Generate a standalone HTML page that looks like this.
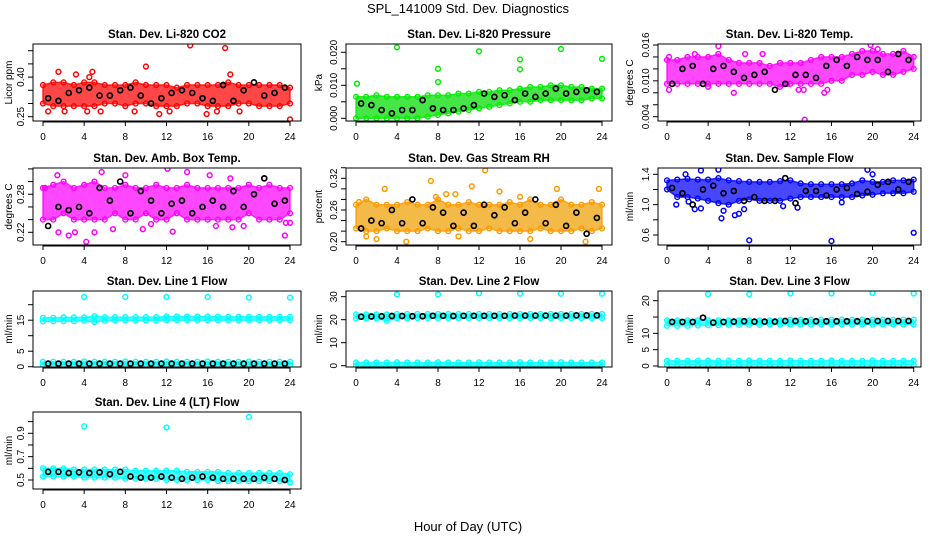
<!DOCTYPE html>
<html><head><meta charset="utf-8"><style>
html,body{margin:0;padding:0;background:#fff;}
svg{display:block;font-family:"Liberation Sans",Arial,sans-serif;}
</style></head><body>
<svg id="chart" width="936" height="540" viewBox="0 0 936 540" xmlns="http://www.w3.org/2000/svg">
<text x="468" y="13" text-anchor="middle" font-size="13">SPL_141009  Std. Dev. Diagnostics</text>
<text x="468" y="531" text-anchor="middle" font-size="13">Hour of Day (UTC)</text>
<g id="plots"></g>
</svg>
<script>
const HOURS=[0,1,2,3,4,5,6,7,8,9,10,11,12,13,14,15,16,17,18,19,20,21,22,23,24];
const BHOURS=[0.5,1.5,2.5,3.5,4.5,5.5,6.5,7.5,8.5,9.5,10.5,11.5,12.5,13.5,14.5,15.5,16.5,17.5,18.5,19.5,20.5,21.5,22.5,23.5];
const XTICKS=[0,4,8,12,16,20,24];

// Panel 1: CO2
const co2Hi=[0.37,0.38,0.38,0.37,0.38,0.38,0.37,0.37,0.37,0.38,0.37,0.37,0.37,0.36,0.37,0.37,0.37,0.37,0.38,0.37,0.37,0.37,0.37,0.37,0.36];
const co2Lo=[0.30,0.29,0.29,0.29,0.29,0.29,0.30,0.30,0.29,0.30,0.30,0.29,0.29,0.29,0.30,0.30,0.29,0.29,0.29,0.30,0.30,0.29,0.29,0.29,0.30];
const co2Black=[0.32,0.31,0.34,0.35,0.36,0.33,0.33,0.35,0.36,0.33,0.30,0.32,0.34,0.35,0.34,0.32,0.31,0.37,0.31,0.35,0.38,0.33,0.34,0.36];
const co2SX=[0.5,1.5,3.2,4.5,4.8,10,11.3,14.3,17.7,18.2,15.9,16.9,19.1,24,5.6,4.3,8.9,12.3,2.1];
const co2SY=[0.27,0.42,0.41,0.40,0.42,0.44,0.26,0.52,0.51,0.41,0.26,0.27,0.27,0.24,0.27,0.27,0.27,0.27,0.27];
// Panel 2: Pressure
const prHi=[0.0065,0.0065,0.007,0.0065,0.0065,0.0065,0.0065,0.007,0.007,0.007,0.0075,0.0075,0.008,0.008,0.0085,0.0085,0.009,0.0095,0.0095,0.01,0.01,0.0095,0.0095,0.009,0.009];
const prLo=[0,0,0,0,0,0,0,0.0005,0.001,0.0015,0.002,0.0025,0.003,0.0035,0.004,0.0045,0.005,0.005,0.0055,0.0055,0.0055,0.0055,0.0055,0.006,0.006];
const prBlack=[0.0045,0.004,0.0025,0.0015,0.0025,0.0025,0.0055,0.003,0.0025,0.0025,0.003,0.004,0.0075,0.0065,0.007,0.0055,0.0075,0.0065,0.0075,0.009,0.0075,0.008,0.0085,0.008];
const prSX=[0.1,4,8,8,12,16,16,20,24];
const prSY=[0.0105,0.0215,0.015,0.011,0.0203,0.0178,0.0148,0.021,0.018];
// Panel 3: Li-820 Temp
const ltHi=[0.0135,0.0135,0.014,0.014,0.014,0.0145,0.0135,0.013,0.013,0.013,0.0125,0.013,0.013,0.013,0.0135,0.014,0.014,0.014,0.0145,0.015,0.015,0.0145,0.0145,0.015,0.014];
const ltLo=[0.0095,0.0095,0.0095,0.0095,0.0095,0.0095,0.0095,0.0095,0.0095,0.0095,0.0095,0.009,0.0095,0.0095,0.0095,0.0095,0.01,0.01,0.011,0.011,0.0115,0.011,0.011,0.0115,0.012];
const ltBlack=[0.0095,0.012,0.0125,0.0095,0.012,0.0125,0.0115,0.0105,0.011,0.0115,0.0085,0.0095,0.011,0.011,0.0105,0.0125,0.0135,0.0125,0.014,0.0135,0.0135,0.0115,0.0145,0.0135];
const ltSX=[0.2,0.2,2.7,5,7.6,9.3,11.7,13.3,13.4,15.6,15.3,19.8,20.5,12.8,6.5,4];
const ltSY=[0.014,0.0085,0.0145,0.0158,0.0145,0.0145,0.0095,0.0085,0.0035,0.0085,0.008,0.016,0.0153,0.0085,0.008,0.009];
// Panel 4: Amb Box Temp
const abHi=[0.29,0.295,0.30,0.29,0.295,0.30,0.29,0.29,0.295,0.29,0.29,0.295,0.29,0.29,0.295,0.29,0.29,0.29,0.29,0.29,0.295,0.29,0.295,0.29,0.29];
const abLo=[0.24,0.24,0.25,0.24,0.24,0.24,0.24,0.25,0.24,0.24,0.25,0.24,0.24,0.25,0.24,0.24,0.24,0.24,0.24,0.24,0.25,0.24,0.24,0.24,0.25];
const abBlack=[0.23,0.26,0.255,0.26,0.25,0.29,0.27,0.30,0.25,0.285,0.27,0.25,0.265,0.27,0.25,0.26,0.27,0.26,0.285,0.26,0.28,0.305,0.265,0.27];
const abSX=[0.2,1.4,1.5,2.5,3.1,4.2,5,5.7,6.8,8,9.7,10.5,12.1,12.6,14,16.2,16.8,18.2,18.4,19.5,23.5,23.6,24,21.5];
const abSY=[0.29,0.31,0.22,0.215,0.22,0.205,0.22,0.315,0.225,0.31,0.225,0.233,0.32,0.221,0.315,0.31,0.23,0.305,0.228,0.23,0.215,0.235,0.235,0.305];
// Panel 5: Gas Stream RH
const rhHi=[0.27,0.28,0.27,0.27,0.27,0.275,0.27,0.27,0.28,0.27,0.27,0.275,0.27,0.27,0.27,0.275,0.27,0.28,0.27,0.27,0.28,0.27,0.27,0.275,0.27];
const rhLo=[0.225,0.22,0.22,0.225,0.22,0.22,0.22,0.225,0.22,0.22,0.225,0.22,0.22,0.225,0.22,0.22,0.22,0.22,0.225,0.22,0.22,0.22,0.225,0.22,0.225];
const rhBlack=[0.225,0.24,0.235,0.26,0.235,0.28,0.235,0.265,0.255,0.23,0.255,0.23,0.27,0.25,0.265,0.235,0.255,0.28,0.235,0.27,0.23,0.255,0.215,0.245];
const rhSX=[0.3,2.8,4.9,7.3,7.8,8.8,9.7,10,11.3,12.6,14,17,19.6,22.4,23.7,16,1,2];
const rhSY=[0.275,0.30,0.20,0.315,0.285,0.29,0.29,0.21,0.305,0.335,0.295,0.205,0.30,0.20,0.30,0.285,0.21,0.205];
// Panel 6: Sample Flow
const sfHi=[1.32,1.33,1.34,1.33,1.33,1.35,1.32,1.31,1.30,1.30,1.30,1.31,1.32,1.28,1.27,1.27,1.27,1.27,1.28,1.32,1.30,1.30,1.32,1.32,1.33];
const sfLo=[1.20,1.10,1.10,1.08,1.05,1.02,1.00,1.05,1.07,1.05,1.05,1.05,1.08,1.10,1.10,1.10,1.10,1.10,1.10,1.12,1.13,1.15,1.15,1.15,1.17];
const sfBlack=[1.22,1.15,1.0,1.20,1.25,1.15,1.18,1.05,1.10,1.05,1.05,1.35,1.02,1.18,1.18,1.12,1.20,1.22,1.14,1.17,1.26,1.30,1.20,1.30];
const sfSX=[0.9,1.8,2.7,3.3,3.3,5,5.3,5.5,6.6,7,7.5,8,16,24,12.7,19.5,20,11.3,2.1,17];
const sfSY=[1.0,1.4,0.94,0.95,1.45,1.46,0.82,0.92,0.86,0.88,0.94,0.53,0.52,0.63,0.96,1.46,1.40,0.98,1.04,1.03];
// Panel 7: Line 1 Flow
const l1Hi=[15.8,15.8,15.9,15.9,15.9,16.3,16,16,16,16,16,16,16.2,16.2,16.2,16.2,16.2,16.2,16.1,16.1,16.1,16.1,16.1,16.1,16.1];
const l1Lo=[14.6,14.6,14.7,14.7,14.8,14.4,14.8,14.9,14.9,14.9,14.9,14.9,15,15,15,15,15,15,15,15,15,15,15,15,15];
const l1LowHi=[1.6,1.6,1.6,1.6,1.7,1.6,1.6,1.6,1.7,1.6,1.6,1.6,1.7,1.6,1.6,1.6,1.7,1.6,1.6,1.6,1.7,1.6,1.6,1.6,1.6];
const l1LowLo=[0.5,0.5,0.5,0.5,0.4,0.5,0.5,0.5,0.4,0.5,0.5,0.5,0.4,0.5,0.5,0.5,0.4,0.5,0.5,0.5,0.4,0.5,0.5,0.5,0.5];
const l1Black=[1.0,1.0,1.0,1.0,1.0,1.0,1.0,1.0,1.0,1.0,1.0,1.0,1.0,1.0,1.0,1.0,1.0,1.0,1.0,1.0,1.0,1.0,1.0,1.0];
const l1SX=[4,8,12,16,20,24];
const l1SY=[22.5,22.5,22.5,22.5,22.3,22.3];
// Panel 8: Line 2 Flow
const l2Hi=[22.3,22.3,22.3,22.3,22.5,22.5,22.5,22.5,22.5,22.5,22.5,22.5,22.5,22.5,22.5,22.5,22.5,22.5,22.5,22.5,22.5,22.5,22.5,22.5,22.5];
const l2Lo=[20.5,20.5,20.5,19.5,20.5,20.5,20.7,20.7,20.7,20.7,20.7,20.7,20.7,20.7,20.7,20.7,20.7,20.7,20.7,20.7,20.7,20.7,20.7,20.7,20.7];
const l2LowHi=[1.4,1.4,1.4,1.4,1.5,1.4,1.4,1.4,1.5,1.4,1.4,1.4,1.5,1.4,1.4,1.4,1.5,1.4,1.4,1.4,1.5,1.4,1.4,1.4,1.4];
const l2LowLo=[0,0,0,0,0,0,-0.3,0,0,0,0,0,0,0,0,0,0,0,0,0,0,0,0,0,0];
const l2Black=[21.3,21.4,21.5,21.6,21.6,21.5,21.5,21.7,21.7,21.6,21.7,21.7,21.7,21.7,21.7,21.8,21.8,21.8,21.8,21.8,21.8,21.9,21.9,21.9];
const l2SX=[4,8,12,16,20,24];
const l2SY=[31,31,31.5,31.3,31.3,31.3];
// Panel 9: Line 3 Flow
const l3Hi=[14,14,14,14,14,14,14,14,14,14,14,14,14.2,14.2,14.2,14.2,14.2,14.2,14.2,14.2,14.2,14.2,14.2,14.2,14.2];
const l3Lo=[12.3,12.3,12.3,12.4,12.5,12.5,12.6,12.6,12.6,12.6,12.7,12.7,12.7,12.7,12.7,12.7,12.7,12.7,12.7,12.7,12.7,12.7,12.7,12.7,12.7];
const l3LowHi=[1.6,1.6,1.6,1.6,1.7,1.6,1.6,1.6,1.7,1.6,1.6,1.6,1.7,1.6,1.6,1.6,1.7,1.6,1.6,1.6,1.7,1.6,1.6,1.6,1.6];
const l3LowLo=[0.3,0.3,0.3,0.3,0.2,0.3,0.3,0.3,0.2,0.3,0.3,0.3,0.2,0.3,0.3,0.3,0.2,0.3,0.3,0.3,0.2,0.3,0.3,0.3,0.3];
const l3Black=[13.5,13.5,13.5,14.8,13.3,13.5,13.6,13.7,13.6,13.6,13.6,13.8,13.8,13.7,13.7,13.7,13.7,13.7,13.7,13.7,13.8,13.8,13.8,13.8];
const l3SX=[4,8,12,16,20,24];
const l3SY=[22,22,22.2,22.2,22.4,22.2];
// Panel 10: Line 4 (LT) Flow
const l4Hi=[0.60,0.60,0.60,0.59,0.59,0.59,0.59,0.59,0.59,0.58,0.58,0.58,0.58,0.58,0.57,0.57,0.57,0.57,0.56,0.56,0.56,0.56,0.56,0.56,0.55];
const l4Lo=[0.53,0.53,0.53,0.53,0.52,0.52,0.52,0.52,0.51,0.51,0.51,0.51,0.50,0.50,0.50,0.50,0.50,0.49,0.49,0.49,0.49,0.49,0.49,0.49,0.48];
const l4Black=[0.57,0.57,0.56,0.565,0.56,0.565,0.55,0.57,0.53,0.52,0.52,0.53,0.52,0.51,0.52,0.53,0.52,0.51,0.51,0.51,0.51,0.52,0.51,0.50];
const l4SX=[4,12,20,24];
const l4SY=[0.96,0.95,1.04,0.48];

const NS="http://www.w3.org/2000/svg";
const root=document.getElementById('plots');
function mk(tag,attrs,parent){const e=document.createElementNS(NS,tag);for(const k in attrs)e.setAttribute(k,attrs[k]);(parent||root).appendChild(e);return e;}

const COLS=[{bx0:33,bx1:301,p0:43,p24:290,yl:12},{bx0:346,bx1:612,p0:356,p24:602,yl:322},{bx0:658,bx1:921,p0:667,p24:913.7,yl:633}];
const ROWS=[{by0:44,by1:121},{by0:168,by1:245},{by0:291,by1:367},{by0:412,by1:489}];

const panels=[
 {name:'co2',title:'Stan. Dev. Li-820 CO2',ylab:'Licor ppm',c:0,r:0,col:'#ff0000',fill:'#ff0000',ref:[0.25,116.7,0.50,50.7],ticks:[0.25,0.30,0.35,0.40,0.45,0.50],labels:['0.25','0.40'],labVals:[0.25,0.40],bands:[[co2Hi,co2Lo]],black:co2Black,sx:co2SX,sy:co2SY},
 {name:'pressure',title:'Stan. Dev. Li-820 Pressure',ylab:'kPa',c:1,r:0,col:'#00ee00',fill:'#00dd00',ref:[0,118.3,0.02,52.3],ticks:[0,0.005,0.01,0.015,0.02],labels:['0.000','0.010','0.020'],labVals:[0,0.01,0.02],bands:[[prHi,prLo]],black:prBlack,sx:prSX,sy:prSY},
 {name:'li-temp',title:'Stan. Dev. Li-820 Temp.',ylab:'degrees C',c:2,r:0,col:'#ff00ff',fill:'#ff00ff',ref:[0.004,116.7,0.016,45],ticks:[0.004,0.006,0.008,0.010,0.012,0.014,0.016],labels:['0.004','0.010','0.016'],labVals:[0.004,0.010,0.016],bands:[[ltHi,ltLo]],black:ltBlack,sx:ltSX,sy:ltSY},
 {name:'amb-box-temp',title:'Stan. Dev. Amb. Box Temp.',ylab:'degrees C',c:0,r:1,col:'#ff00ff',fill:'#ff00ff',ref:[0.22,232.3,0.32,168.9],ticks:[0.22,0.24,0.26,0.28,0.30,0.32],labels:['0.22','0.28'],labVals:[0.22,0.28],bands:[[abHi,abLo]],black:abBlack,sx:abSX,sy:abSY},
 {name:'gas-rh',title:'Stan. Dev. Gas Stream RH',ylab:'percent',c:1,r:1,col:'#ff9900',fill:'#f0a000',ref:[0.20,241.7,0.32,178.3],ticks:[0.20,0.22,0.24,0.26,0.28,0.30,0.32,0.34],labels:['0.20','0.26','0.32'],labVals:[0.20,0.26,0.32],bands:[[rhHi,rhLo]],black:rhBlack,sx:rhSX,sy:rhSY},
 {name:'sample-flow',title:'Stan. Dev. Sample Flow',ylab:'ml/min',c:2,r:1,col:'#0000ff',fill:'#0000ff',ref:[0.6,235,1.4,174.3],ticks:[0.6,0.8,1.0,1.2,1.4],labels:['0.6','1.0','1.4'],labVals:[0.6,1.0,1.4],bands:[[sfHi,sfLo]],black:sfBlack,sx:sfSX,sy:sfSY},
 {name:'line1-flow',title:'Stan. Dev. Line 1 Flow',ylab:'ml/min',c:0,r:2,col:'#00ffff',fill:'#00ffff',ref:[0,366.7,20,304.7],ticks:[0,5,10,15,20],labels:['0','5','15'],labVals:[0,5,15],bands:[[l1Hi,l1Lo],[l1LowHi,l1LowLo]],black:l1Black,sx:l1SX,sy:l1SY},
 {name:'line2-flow',title:'Stan. Dev. Line 2 Flow',ylab:'ml/min',c:1,r:2,col:'#00ffff',fill:'#00ffff',ref:[0,365.7,30,296.7],ticks:[0,10,20,30],labels:['0','10','20','30'],labVals:[0,10,20,30],bands:[[l2Hi,l2Lo],[l2LowHi,l2LowLo]],black:l2Black,sx:l2SX,sy:l2SY},
 {name:'line3-flow',title:'Stan. Dev. Line 3 Flow',ylab:'ml/min',c:2,r:2,col:'#00ffff',fill:'#00ffff',ref:[0,366,20,300.7],ticks:[0,5,10,15,20],labels:['0','5','10','20'],labVals:[0,5,10,20],bands:[[l3Hi,l3Lo],[l3LowHi,l3LowLo]],black:l3Black,sx:l3SX,sy:l3SY},
 {name:'line4-flow',title:'Stan. Dev. Line 4 (LT) Flow',ylab:'ml/min',c:0,r:3,col:'#00ffff',fill:'#00ffff',ref:[0.5,480,0.9,433.3],ticks:[0.5,0.6,0.7,0.8,0.9,1.0],labels:['0.5','0.7','0.9'],labVals:[0.5,0.7,0.9],bands:[[l4Hi,l4Lo]],black:l4Black,sx:l4SX,sy:l4SY}
];

panels.forEach((p,i)=>{
  const C=COLS[p.c],R=ROWS[p.r];
  const xs=h=>C.p0+h*(C.p24-C.p0)/24;
  const ys=v=>p.ref[1]+(v-p.ref[0])*(p.ref[3]-p.ref[1])/(p.ref[2]-p.ref[0]);
  const g=mk('g',{});
  
  
  const cp=mk('clipPath',{id:'clip'+i},g);
  mk('rect',{x:C.bx0,y:R.by0,width:C.bx1-C.bx0,height:R.by1-R.by0},cp);
  const t=mk('text',{x:(C.bx0+C.bx1)/2,y:R.by0-6,'text-anchor':'middle','font-size':'11.5','font-weight':'bold'},g);
  t.textContent=p.title;
  
  
  const yl=mk('text',{x:C.yl,y:(R.by0+R.by1)/2,'text-anchor':'middle','font-size':'10',transform:'rotate(-90 '+C.yl+' '+(R.by0+R.by1)/2+')'},g);
  yl.textContent=p.ylab;
  
  
  const marks=mk('g',{'clip-path':'url(#clip'+i+')'},g);
  p.bands.forEach(b=>{
    const hi=b[0],lo=b[1];
    let d='';
    HOURS.forEach((h,k)=>{d+=(k?'L':'M')+xs(h).toFixed(1)+' '+ys(hi[k]).toFixed(1);});
    for(let k=HOURS.length-1;k>=0;k--)d+='L'+xs(HOURS[k]).toFixed(1)+' '+ys(lo[k]).toFixed(1);
    const band=mk('path',{d:d+'Z',fill:p.fill,'fill-opacity':'0.72',stroke:p.col,'stroke-width':'1.5','stroke-opacity':'0.8'},marks);
    
    
    [hi,lo].forEach(arr=>arr.forEach((v,k)=>{
      const c=mk('circle',{cx:xs(HOURS[k]),cy:ys(v),r:2.4,fill:'none',stroke:p.col,'stroke-width':1.4},marks);
      
      
    }));
  });
  p.sx.forEach((h,k)=>{
    const c=mk('circle',{cx:xs(h),cy:ys(p.sy[k]),r:2.4,fill:'none',stroke:p.col,'stroke-width':1.5},marks);
    
    
  });
  p.black.forEach((v,k)=>{
    const c=mk('circle',{cx:xs(BHOURS[k]),cy:ys(v),r:2.5,fill:'none',stroke:'#000','stroke-width':1.7},marks);
    
    
  });
  const box=mk('rect',{x:C.bx0,y:R.by0,width:C.bx1-C.bx0,height:R.by1-R.by0,fill:'none',stroke:'#000','stroke-width':1},g);
  
  
  const xa=mk('g',{},g);
  
  
  mk('line',{x1:xs(0),x2:xs(24),y1:R.by1+1,y2:R.by1+1,stroke:'#000'},xa);
  XTICKS.forEach(h=>{
    mk('line',{x1:xs(h),x2:xs(h),y1:R.by1,y2:R.by1+5,stroke:'#000'},xa);
    const tl=mk('text',{x:xs(h),y:R.by1+19,'text-anchor':'middle','font-size':'10'},xa);
    tl.textContent=h;
    
    
  });
  const ya=mk('g',{},g);
  
  
  p.ticks.forEach(v=>{mk('line',{x1:C.bx0-5,x2:C.bx0,y1:ys(v),y2:ys(v),stroke:'#000'},ya);});
  p.labVals.forEach((v,k)=>{
    const lx=C.bx0-9,ly=ys(v);
    const tl=mk('text',{x:lx,y:ly,'text-anchor':'middle','font-size':'10',transform:'rotate(-90 '+lx+' '+ly+')'},ya);
    tl.textContent=p.labels[k];
    
    
  });
});
</script>
</body></html>
